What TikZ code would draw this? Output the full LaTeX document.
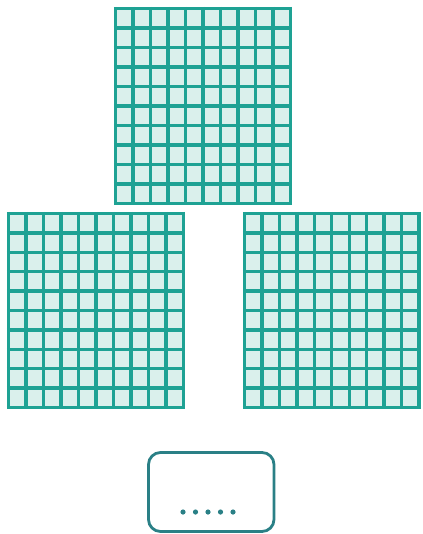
\documentclass[tikz,border=0pt]{standalone}
\usetikzlibrary{calc}
\definecolor{gridline}{RGB}{30,162,148}
\definecolor{gridfill}{RGB}{218,240,236}
\definecolor{boxline}{RGB}{42,128,134}
\tikzset{
  cellgrid/.style={draw=gridline, line width=3.3pt},
  blockfill/.style={fill=gridfill},
  dotsbox/.style={draw=boxline, line width=2.8pt, rounded corners=12pt},
  dotmark/.style={fill=boxline}
}
\newcommand\drawgridblock[4]{%
  % #1 left, #2 top, #3 right, #4 bottom (px)
  \fill[blockfill] (#1,#2) rectangle (#3,#4);
  \foreach \i in {0,...,10}{
    \draw[cellgrid] ({#1+(#3-#1)*\i/10},#2-1.6) -- ({#1+(#3-#1)*\i/10},#4+1.6);
    \draw[cellgrid] (#1-1.6,{#2+(#4-#2)*\i/10}) -- (#3+1.6,{#2+(#4-#2)*\i/10});
  }
}
\begin{document}
\begin{tikzpicture}[x=1pt,y=-1pt]
\useasboundingbox (0,0) rectangle (422,534);
\drawgridblock{115.5}{8.5}{290.5}{203.5}
\drawgridblock{8.5}{213.5}{183.5}{407.5}
\drawgridblock{244.5}{213.5}{419}{407.5}
\draw[dotsbox] (148.5,452.5) rectangle (274,531.5);
\foreach \k in {0,...,4}{
  \fill[dotmark] ({183+12.5*\k},512) circle (2.6);
}
\end{tikzpicture}
\end{document}
